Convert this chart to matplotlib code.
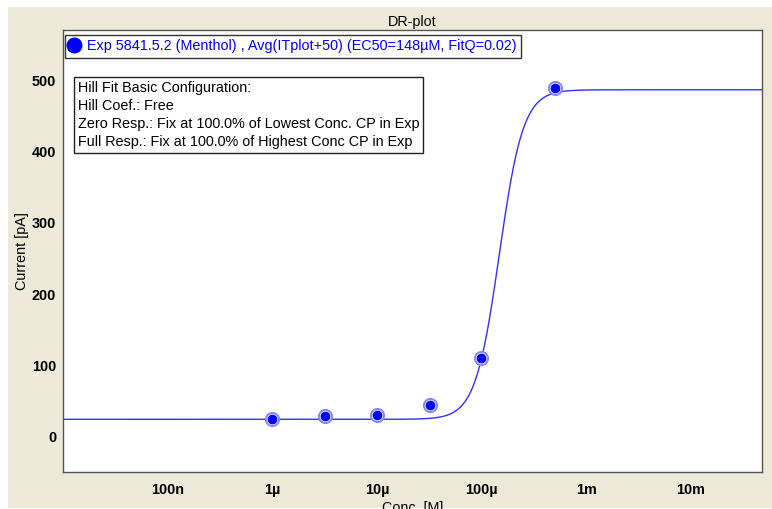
import numpy as np
import matplotlib
matplotlib.use("Agg")
import matplotlib.pyplot as plt
from matplotlib.lines import Line2D
from matplotlib.patches import Rectangle
from matplotlib.ticker import FixedLocator, NullLocator

plt.rcParams['font.family'] = ['Liberation Sans', 'DejaVu Sans']

# measured dose-response points (Menthol)
conc = [1.0e-6, 3.2e-6, 1.0e-5, 3.2e-5, 1.0e-4, 5.0e-4]   # M
current = [25, 28.5, 29.5, 43.5, 110, 489]                  # pA

# Hill fit parameters
ec50 = 148e-6
hill_n = 3.8
zero_resp = 24
full_resp = 487

xticks = [1e-7, 1e-6, 1e-5, 1e-4, 1e-3, 1e-2]
xticklabels = ['100n', '1\u00b5', '10\u00b5', '100\u00b5', '1m', '10m']
yticks = [0, 100, 200, 300, 400, 500]

bg = '#ece9d8'
fs = 10.4
fig = plt.figure(figsize=(7.72, 5.09), dpi=100, facecolor='white')
fig.patches.append(Rectangle((8/772, 1/509), 1, 1 - 8/509, transform=fig.transFigure,
                             facecolor=bg, edgecolor='none', zorder=-10))

ax = fig.add_axes([63/772, 37/509, 699/772, 442/509])
ax.set_facecolor('white')

xfit = np.logspace(-8, np.log10(0.048), 600)
yfit = zero_resp + (full_resp - zero_resp) / (1 + (ec50 / xfit) ** hill_n)
ax.plot(xfit, yfit, color='#3030ff', lw=1.0, zorder=2)

ax.plot(conc, current, 'o', ms=9.5, mfc='white', mec='#8585ff', mew=1.4,
        ls='none', zorder=3)
ax.plot(conc, current, 'o', ms=6.0, mfc='#0000ff', mec='#0000ff',
        ls='none', zorder=4)

ax.set_xscale('log')
ax.set_xlim(1e-8, 0.048)
ax.set_ylim(-50, 571)
ax.xaxis.set_major_locator(FixedLocator(xticks))
ax.xaxis.set_minor_locator(NullLocator())
ax.set_xticklabels(xticklabels)
ax.set_yticks(yticks)
ax.tick_params(length=0, labelsize=fs)
ax.tick_params(axis='x', pad=8)
ax.tick_params(axis='y', pad=5)
for lab in ax.get_xticklabels() + ax.get_yticklabels():
    lab.set_fontweight('bold')

for s in ax.spines.values():
    s.set_color('#555555')
    s.set_linewidth(1.0)

ax.set_title('DR-plot', fontsize=fs, pad=3)
ax.set_xlabel('Conc. [M]', fontsize=fs, labelpad=3)
ax.set_ylabel('Current [pA]', fontsize=fs, labelpad=2)

handle = Line2D([], [], marker='o', ls='none', ms=10.5, color='#0000ff')
leg = ax.legend([handle],
                ['Exp 5841.5.2 (Menthol) , Avg(ITplot+50) (EC50=148\u00b5M, FitQ=0.02)'],
                loc='upper left', bbox_to_anchor=(0.003, 0.989), borderaxespad=0,
                fancybox=False, edgecolor='#333333', framealpha=1,
                fontsize=fs, handlelength=0.7, handletextpad=0.55,
                borderpad=0.3)
leg.get_frame().set_linewidth(1.0)
for t in leg.get_texts():
    t.set_color('#0000ff')

ax.text(0.0215, 0.885,
        'Hill Fit Basic Configuration:\nHill Coef.: Free\n'
        'Zero Resp.: Fix at 100.0% of Lowest Conc. CP in Exp\n'
        'Full Resp.: Fix at 100.0% of Highest Conc CP in Exp',
        transform=ax.transAxes, fontsize=fs, va='top', ha='left',
        linespacing=1.37,
        bbox=dict(boxstyle='square,pad=0.25', facecolor='white',
                  edgecolor='#222222', lw=1.0))

fig.savefig('out.png', dpi=100, facecolor=fig.get_facecolor())
